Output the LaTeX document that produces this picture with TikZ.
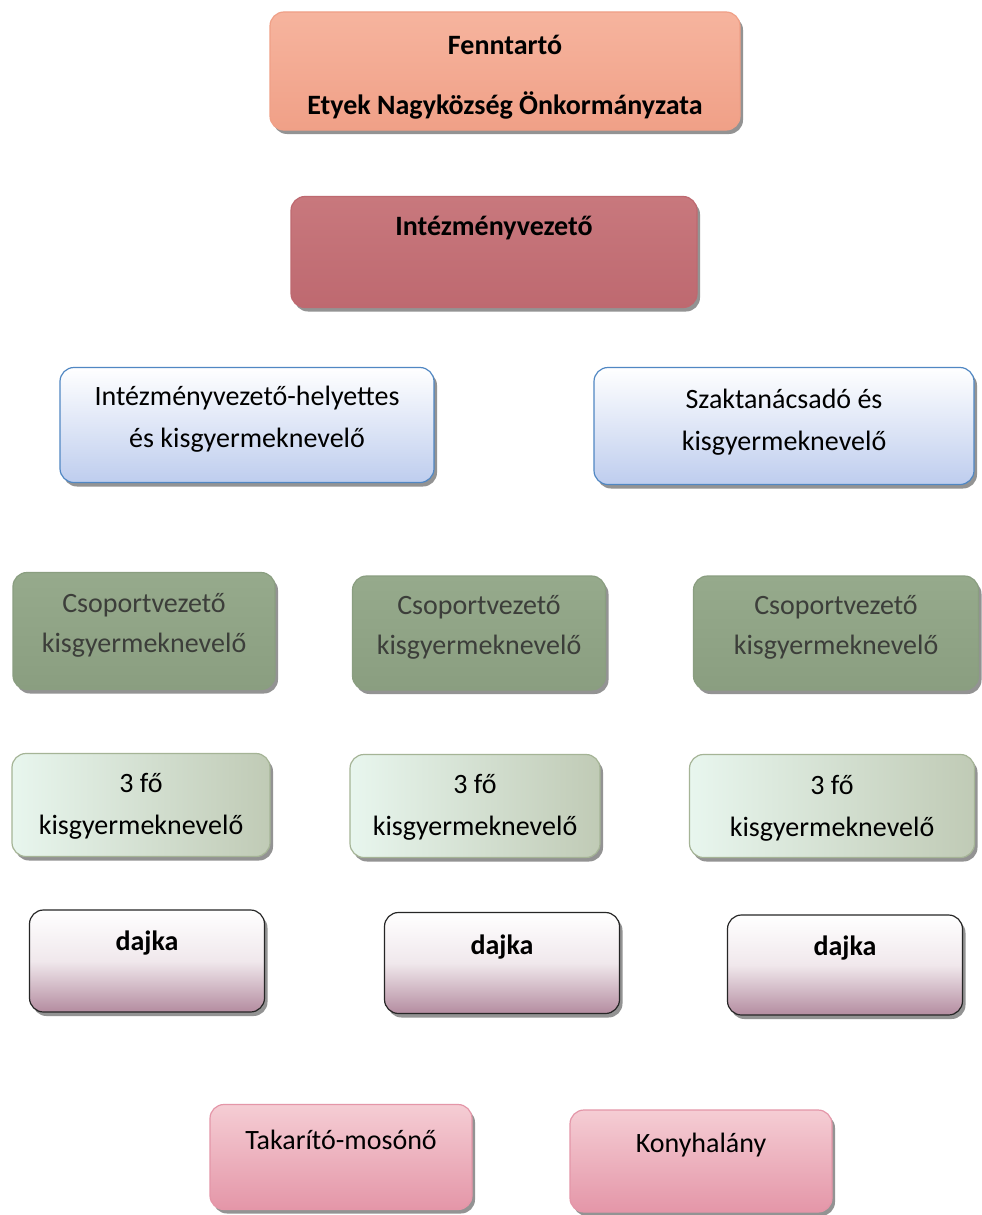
\documentclass[tikz,border=0pt]{standalone}
\usepackage{fontspec}
\setmainfont{Carlito}
\usetikzlibrary{shadows}
\definecolor{salmon}{RGB}{240,160,135}
\definecolor{salmonlt}{RGB}{246,180,158}
\definecolor{rose}{RGB}{190,105,112}
\definecolor{roselt}{RGB}{200,120,125}
\definecolor{bluebd}{RGB}{80,135,195}
\definecolor{bluelt}{RGB}{190,205,238}
\definecolor{sage}{RGB}{138,158,128}
\definecolor{sagelt}{RGB}{150,170,140}
\definecolor{mint}{RGB}{232,246,238}
\definecolor{mintdk}{RGB}{165,180,150}
\definecolor{mauve}{RGB}{180,140,160}
\definecolor{pinkbx}{RGB}{228,150,168}
\definecolor{pinklt}{RGB}{245,205,212}
\definecolor{txtgray}{RGB}{60,62,58}
\tikzset{
  base/.style={rounded corners=14pt, inner sep=0pt, line width=1.2pt,
    drop shadow={shadow xshift=3pt, shadow yshift=-4pt, fill=black!70, opacity=0.6}},
  bfenn/.style={base, draw=salmon, top color=salmonlt, bottom color=salmon},
  bint/.style={base, draw=rose, top color=roselt, bottom color=rose},
  bblue/.style={base, draw=bluebd, top color=white, bottom color=bluelt},
  bgreen/.style={base, draw=sage, top color=sagelt, bottom color=sage},
  bmint/.style={base, draw=mintdk, left color=mint, right color=mintdk!70},
  bdajka/.style={base, draw=black!85, top color=white, bottom color=mauve, middle color=white!80!mauve},
  bpink/.style={base, draw=pinkbx, top color=pinklt, bottom color=pinkbx},
  tx/.style={font=\fontsize{28}{42}\selectfont, align=center, inner sep=0pt},
  txb/.style={tx, font=\fontsize{28}{42}\selectfont\bfseries},
  txg/.style={tx, text=txtgray, font=\fontsize{28}{40}\selectfont},
}
\begin{document}
\begin{tikzpicture}[x=1pt,y=-1pt]
\fill[white] (0,0) rectangle (982,1215);
\useasboundingbox (0,0) rectangle (982,1215);
% row 1
\node[bfenn, minimum width=470pt, minimum height=118pt] (fenn) at (505,71) {};
\node[txb] (fennt1) at (505,45) {Fenntartó};
\node[txb] (fennt2) at (505,105) {Etyek Nagyközség Önkormányzata};
% row 2
\node[bint, minimum width=406pt, minimum height=111pt] (intv) at (494,252) {};
\node[txb] (intvt) at (494,228) {Intézményvezető};
% row 3
\node[bblue, minimum width=374pt, minimum height=115pt] (helyt) at (247,425) {};
\node[tx] (helytt) at (247,419) {Intézményvezető-helyettes\\és kisgyermeknevelő};
\node[bblue, minimum width=380pt, minimum height=117pt] (szak) at (784,426) {};
\node[tx] (szakt) at (784,422) {Szaktanácsadó és\\kisgyermeknevelő};
% row 4
\node[bgreen, minimum width=262pt, minimum height=117pt] (cs1) at (144,631) {};
\node[txg] (cs1t) at (144,625) {Csoportvezető\\kisgyermeknevelő};
\node[bgreen, minimum width=253pt, minimum height=114pt] (cs2) at (479,633) {};
\node[txg] (cs2t) at (479,627) {Csoportvezető\\kisgyermeknevelő};
\node[bgreen, minimum width=285pt, minimum height=114pt] (cs3) at (836,633) {};
\node[txg] (cs3t) at (836,627) {Csoportvezető\\kisgyermeknevelő};
% row 5
\node[bmint, minimum width=258pt, minimum height=103pt] (k1) at (141,805) {};
\node[tx] (k1t) at (141,806) {3 fő\\kisgyermeknevelő};
\node[bmint, minimum width=250pt, minimum height=103pt] (k2) at (475,806) {};
\node[tx] (k2t) at (475,807) {3 fő\\kisgyermeknevelő};
\node[bmint, minimum width=285pt, minimum height=103pt] (k3) at (832,806) {};
\node[tx] (k3t) at (832,808) {3 fő\\kisgyermeknevelő};
% row 6
\node[bdajka, minimum width=235pt, minimum height=102pt] (d1) at (147,961) {};
\node[txb] (d1t) at (147,943) {dajka};
\node[bdajka, minimum width=235pt, minimum height=101pt] (d2) at (502,963) {};
\node[txb] (d2t) at (502,947) {dajka};
\node[bdajka, minimum width=235pt, minimum height=100pt] (d3) at (845,965) {};
\node[txb] (d3t) at (845,948) {dajka};
% row 7
\node[bpink, minimum width=262pt, minimum height=105pt] (tak) at (341,1157) {};
\node[tx] (takt) at (341,1140) {Takarító-mosónő};
\node[bpink, minimum width=262pt, minimum height=102pt] (kony) at (701,1161) {};
\node[tx] (konyt) at (701,1145) {Konyhalány};
\end{tikzpicture}
\end{document}
